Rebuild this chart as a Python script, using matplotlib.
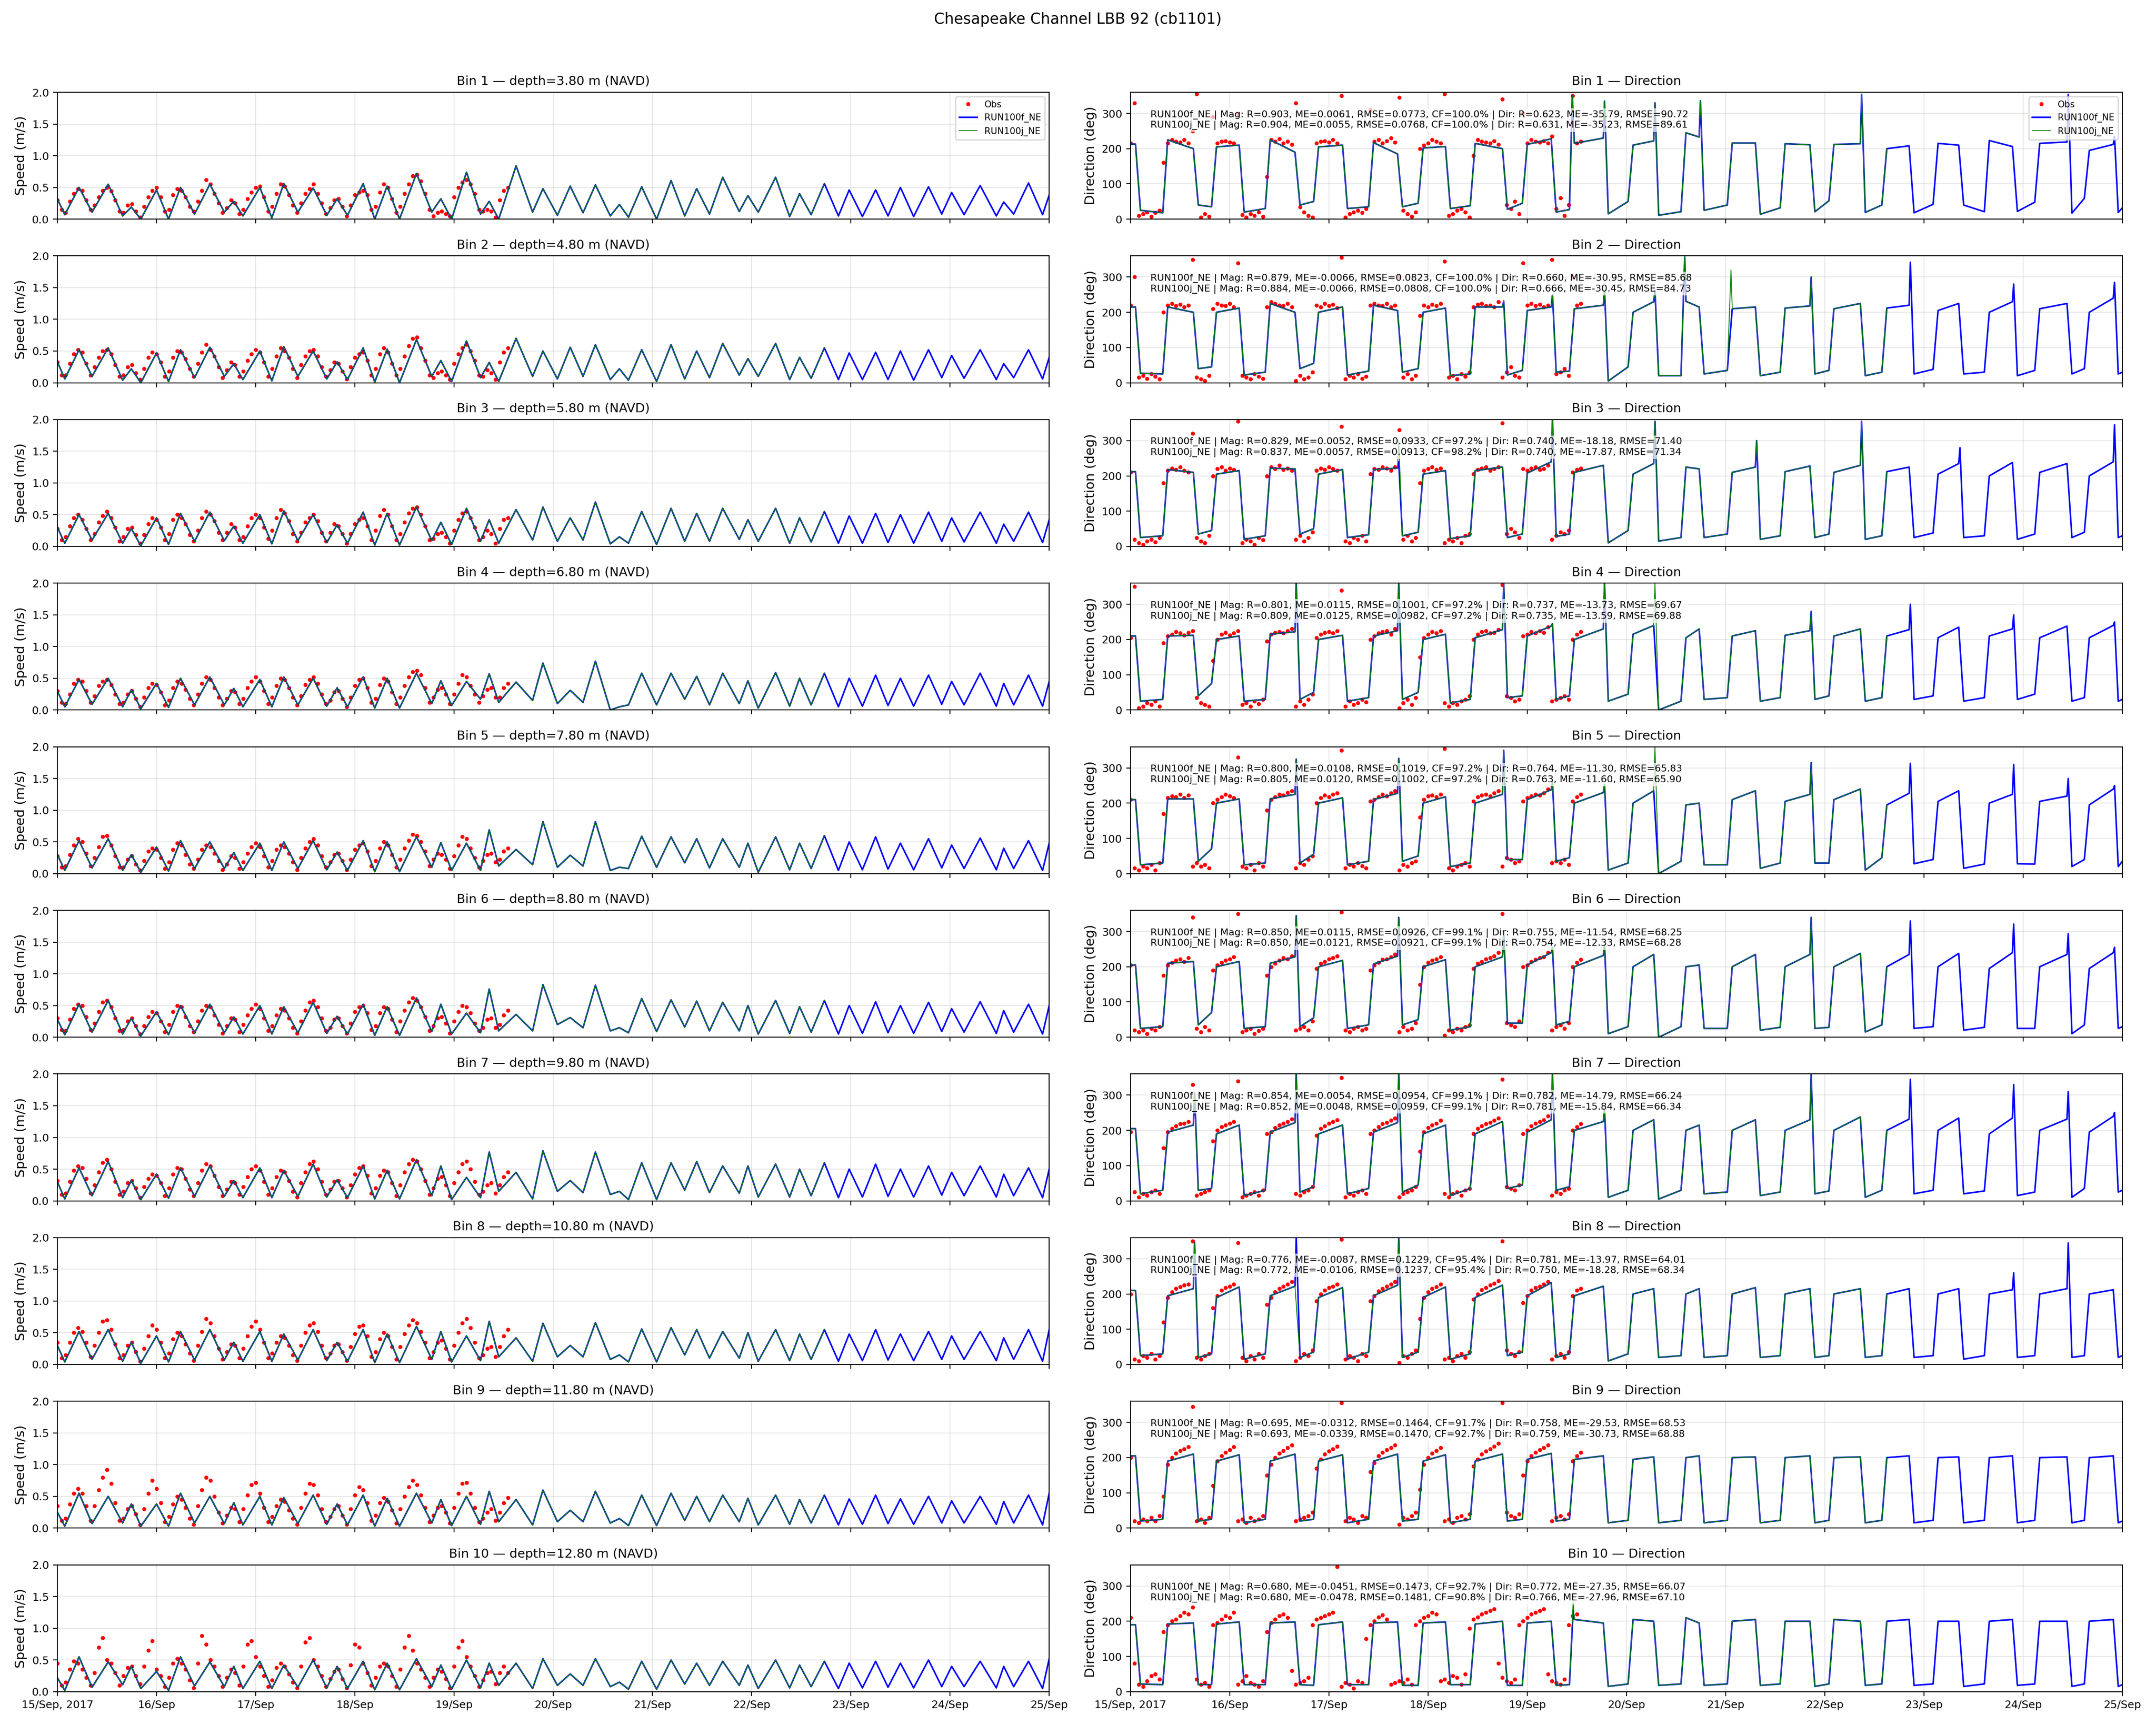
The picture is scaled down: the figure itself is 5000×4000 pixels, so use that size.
"""
Chesapeake Channel LBB 92 (cb1101): ADCP bins vs RUN100f_NE / RUN100j_NE.
Speed (left) and direction (right) per bin, hourly values read from the plot.
"""

import numpy as np
import matplotlib
matplotlib.use("Agg")
import matplotlib.pyplot as plt

station = "Chesapeake Channel LBB 92 (cb1101)"
depths = [3.80, 4.80, 5.80, 6.80, 7.80, 8.80, 9.80, 10.80, 11.80, 12.80]
day_labels = ["15/Sep, 2017", "16/Sep", "17/Sep", "18/Sep", "19/Sep", "20/Sep",
              "21/Sep", "22/Sep", "23/Sep", "24/Sep", "25/Sep"]

# hours since 15 Sep 2017 00:00
slack_h = [1.8, 8.4, 15.8, 20.2, 26.9, 33.2, 40.4, 44.9, 51.9, 58.2,
           65.2, 70.2, 76.8, 82.8, 90.6, 95.4, 102.4, 106.8, 115.0, 121.0,
           127.2, 133.8, 138.2, 145.0, 151.8, 157.8, 165.0, 169.6, 177.2, 182.4,
           189.0, 194.8, 201.0, 207.2, 214.0, 219.4, 227.2, 231.4, 238.4]
peak_h = [5.25, 12.3, 17.9, 24.0, 29.8, 36.9, 42.7, 49.0, 54.8, 61.9,
          67.7, 74.0, 79.8, 86.9, 92.8, 99.0, 104.5, 111.0, 117.5, 124.1,
          130.2, 136.0, 141.4, 148.5, 154.7, 161.0, 167.1, 173.8, 179.6, 185.6,
          191.6, 198.0, 204.0, 210.8, 216.4, 223.3, 229.0, 235.0]
run_j_end_h = 188.0

# skill scores printed in the direction panels
mag_r_f = [0.903, 0.879, 0.829, 0.801, 0.800, 0.850, 0.854, 0.776, 0.695, 0.680]
mag_me_f = [0.0061, -0.0066, 0.0052, 0.0115, 0.0108, 0.0115, 0.0054, -0.0087, -0.0312, -0.0451]
mag_rmse_f = [0.0773, 0.0823, 0.0933, 0.1001, 0.1019, 0.0926, 0.0954, 0.1229, 0.1464, 0.1473]
cf_f = [100.0, 100.0, 97.2, 97.2, 97.2, 99.1, 99.1, 95.4, 91.7, 92.7]
dir_r_f = [0.623, 0.660, 0.740, 0.737, 0.764, 0.755, 0.782, 0.781, 0.758, 0.772]
dir_me_f = [-35.79, -30.95, -18.18, -13.73, -11.30, -11.54, -14.79, -13.97, -29.53, -27.35]
dir_rmse_f = [90.72, 85.68, 71.40, 69.67, 65.83, 68.25, 66.24, 64.01, 68.53, 66.07]
mag_r_j = [0.904, 0.884, 0.837, 0.809, 0.805, 0.850, 0.852, 0.772, 0.693, 0.680]
mag_me_j = [0.0055, -0.0066, 0.0057, 0.0125, 0.0120, 0.0121, 0.0048, -0.0106, -0.0339, -0.0478]
mag_rmse_j = [0.0768, 0.0808, 0.0913, 0.0982, 0.1002, 0.0921, 0.0959, 0.1237, 0.1470, 0.1481]
cf_j = [100.0, 100.0, 98.2, 97.2, 97.2, 99.1, 99.1, 95.4, 92.7, 90.8]
dir_r_j = [0.631, 0.666, 0.740, 0.735, 0.763, 0.754, 0.781, 0.750, 0.759, 0.766]
dir_me_j = [-35.23, -30.45, -17.87, -13.59, -11.60, -12.33, -15.84, -18.28, -30.73, -27.96]
dir_rmse_j = [89.61, 84.73, 71.34, 69.88, 65.90, 68.28, 66.34, 68.34, 68.88, 67.10]

# ---- model speed: value at start, at each slack (trough), at each peak, at end
spd_start = [0.32, 0.33, 0.30, 0.30, 0.30, 0.28, 0.30, 0.30, 0.25, 0.22]
spd_end = [0.38, 0.40, 0.42, 0.45, 0.48, 0.50, 0.50, 0.55, 0.55, 0.52]

spd_tr_b1 = [0.07, 0.11, 0.05, 0.00, 0.00, 0.08, 0.11, 0.05, 0.02, 0.11, 0.06, 0.06, 0.00, 0.00, 0.11, 0.00, 0.08, 0.00, 0.11, 0.06,
             0.10, 0.05, 0.03, 0.00, 0.05, 0.08, 0.12, 0.11, 0.04, 0.07, 0.05, 0.04, 0.05, 0.04, 0.08, 0.07, 0.05, 0.08, 0.07]
spd_pk_b1 = [0.50, 0.55, 0.19, 0.46, 0.50, 0.55, 0.28, 0.50, 0.56, 0.49, 0.32, 0.56, 0.52, 0.72, 0.32, 0.74, 0.28, 0.84, 0.48, 0.52,
             0.54, 0.23, 0.51, 0.61, 0.48, 0.66, 0.37, 0.66, 0.40, 0.56, 0.46, 0.46, 0.50, 0.51, 0.42, 0.53, 0.27, 0.57]
spd_tr_b2 = [0.06, 0.10, 0.04, 0.00, 0.02, 0.08, 0.10, 0.05, 0.03, 0.10, 0.06, 0.05, 0.01, 0.00, 0.10, 0.02, 0.08, 0.02, 0.10, 0.06,
             0.10, 0.05, 0.04, 0.02, 0.06, 0.08, 0.12, 0.10, 0.05, 0.07, 0.05, 0.05, 0.05, 0.04, 0.08, 0.07, 0.05, 0.08, 0.06]
spd_pk_b2 = [0.52, 0.55, 0.22, 0.47, 0.52, 0.56, 0.30, 0.50, 0.57, 0.50, 0.33, 0.55, 0.53, 0.68, 0.35, 0.66, 0.32, 0.70, 0.50, 0.56,
             0.60, 0.22, 0.52, 0.60, 0.50, 0.62, 0.38, 0.62, 0.40, 0.55, 0.47, 0.48, 0.50, 0.52, 0.43, 0.52, 0.30, 0.52]
spd_tr_b3 = [0.05, 0.10, 0.05, 0.01, 0.03, 0.08, 0.09, 0.05, 0.04, 0.09, 0.06, 0.05, 0.02, 0.02, 0.09, 0.03, 0.08, 0.05, 0.10, 0.08,
             0.10, 0.04, 0.05, 0.03, 0.08, 0.08, 0.11, 0.08, 0.05, 0.07, 0.05, 0.05, 0.06, 0.05, 0.08, 0.07, 0.05, 0.08, 0.06]
spd_pk_b3 = [0.50, 0.52, 0.28, 0.45, 0.52, 0.54, 0.32, 0.50, 0.56, 0.50, 0.34, 0.54, 0.52, 0.62, 0.38, 0.60, 0.42, 0.58, 0.62, 0.45,
             0.70, 0.15, 0.55, 0.60, 0.52, 0.60, 0.42, 0.60, 0.45, 0.55, 0.48, 0.52, 0.50, 0.54, 0.45, 0.54, 0.35, 0.54]
spd_tr_b4 = [0.05, 0.09, 0.05, 0.02, 0.04, 0.08, 0.08, 0.05, 0.05, 0.08, 0.06, 0.05, 0.03, 0.03, 0.10, 0.07, 0.17, 0.12, 0.15, 0.10,
             0.12, 0.00, 0.08, 0.08, 0.17, 0.08, 0.10, 0.03, 0.06, 0.08, 0.05, 0.06, 0.07, 0.06, 0.09, 0.08, 0.06, 0.08, 0.06]
spd_pk_b4 = [0.48, 0.50, 0.32, 0.42, 0.50, 0.52, 0.34, 0.48, 0.52, 0.50, 0.35, 0.52, 0.50, 0.58, 0.46, 0.45, 0.57, 0.44, 0.74, 0.31,
             0.77, 0.05, 0.58, 0.58, 0.53, 0.58, 0.46, 0.59, 0.50, 0.58, 0.50, 0.55, 0.50, 0.55, 0.45, 0.58, 0.42, 0.55]
spd_tr_b5 = [0.05, 0.09, 0.05, 0.02, 0.04, 0.08, 0.08, 0.05, 0.05, 0.08, 0.06, 0.05, 0.03, 0.03, 0.10, 0.05, 0.05, 0.12, 0.14, 0.10,
             0.12, 0.05, 0.08, 0.10, 0.17, 0.09, 0.10, 0.02, 0.06, 0.08, 0.05, 0.06, 0.07, 0.06, 0.09, 0.08, 0.06, 0.08, 0.05]
spd_pk_b5 = [0.52, 0.55, 0.30, 0.42, 0.52, 0.50, 0.33, 0.48, 0.50, 0.52, 0.34, 0.52, 0.50, 0.58, 0.49, 0.48, 0.69, 0.38, 0.82, 0.29,
             0.82, 0.10, 0.59, 0.58, 0.55, 0.55, 0.48, 0.58, 0.48, 0.60, 0.50, 0.58, 0.48, 0.55, 0.45, 0.56, 0.40, 0.52]
spd_tr_b6 = [0.04, 0.08, 0.05, 0.02, 0.04, 0.07, 0.07, 0.05, 0.05, 0.07, 0.06, 0.05, 0.03, 0.03, 0.09, 0.05, 0.07, 0.10, 0.10, 0.20,
             0.15, 0.10, 0.07, 0.09, 0.16, 0.10, 0.10, 0.05, 0.06, 0.08, 0.05, 0.06, 0.07, 0.06, 0.09, 0.08, 0.06, 0.08, 0.05]
spd_pk_b6 = [0.52, 0.58, 0.30, 0.40, 0.50, 0.52, 0.32, 0.50, 0.48, 0.55, 0.33, 0.52, 0.48, 0.62, 0.52, 0.38, 0.76, 0.36, 0.83, 0.31,
             0.82, 0.15, 0.61, 0.59, 0.57, 0.55, 0.50, 0.58, 0.48, 0.58, 0.50, 0.56, 0.50, 0.55, 0.45, 0.56, 0.42, 0.52]
spd_tr_b7 = [0.03, 0.08, 0.05, 0.02, 0.04, 0.07, 0.07, 0.05, 0.05, 0.07, 0.06, 0.05, 0.03, 0.03, 0.08, 0.02, 0.05, 0.15, 0.03, 0.15,
             0.13, 0.10, 0.02, 0.02, 0.17, 0.13, 0.12, 0.06, 0.06, 0.08, 0.05, 0.06, 0.07, 0.06, 0.09, 0.08, 0.06, 0.08, 0.05]
spd_pk_b7 = [0.52, 0.62, 0.32, 0.42, 0.52, 0.55, 0.32, 0.52, 0.48, 0.58, 0.33, 0.55, 0.48, 0.65, 0.55, 0.37, 0.77, 0.45, 0.79, 0.32,
             0.77, 0.15, 0.60, 0.60, 0.62, 0.55, 0.55, 0.58, 0.50, 0.60, 0.50, 0.58, 0.50, 0.55, 0.45, 0.55, 0.42, 0.52]
spd_tr_b8 = [0.04, 0.08, 0.05, 0.02, 0.04, 0.07, 0.07, 0.05, 0.05, 0.07, 0.06, 0.05, 0.03, 0.03, 0.08, 0.04, 0.06, 0.12, 0.05, 0.12,
             0.12, 0.08, 0.04, 0.04, 0.15, 0.10, 0.10, 0.05, 0.06, 0.08, 0.05, 0.06, 0.07, 0.06, 0.08, 0.08, 0.06, 0.08, 0.05]
spd_pk_b8 = [0.52, 0.55, 0.35, 0.45, 0.52, 0.55, 0.35, 0.52, 0.48, 0.55, 0.35, 0.55, 0.48, 0.60, 0.52, 0.45, 0.68, 0.42, 0.65, 0.30,
             0.66, 0.15, 0.56, 0.58, 0.55, 0.52, 0.50, 0.55, 0.48, 0.55, 0.48, 0.55, 0.48, 0.52, 0.45, 0.52, 0.42, 0.55]
spd_tr_b9 = [0.03, 0.07, 0.08, 0.03, 0.03, 0.08, 0.07, 0.05, 0.05, 0.07, 0.06, 0.05, 0.03, 0.03, 0.08, 0.04, 0.06, 0.10, 0.05, 0.10,
             0.10, 0.08, 0.04, 0.04, 0.12, 0.10, 0.10, 0.05, 0.06, 0.08, 0.05, 0.06, 0.07, 0.06, 0.08, 0.08, 0.06, 0.08, 0.05]
spd_pk_b9 = [0.55, 0.50, 0.38, 0.38, 0.55, 0.50, 0.40, 0.50, 0.48, 0.52, 0.38, 0.52, 0.47, 0.55, 0.45, 0.50, 0.58, 0.45, 0.60, 0.28,
             0.58, 0.15, 0.52, 0.55, 0.50, 0.52, 0.47, 0.52, 0.45, 0.52, 0.46, 0.52, 0.46, 0.50, 0.43, 0.50, 0.42, 0.52]
spd_tr_b10 = [0.02, 0.07, 0.11, 0.05, 0.02, 0.09, 0.08, 0.05, 0.05, 0.07, 0.06, 0.05, 0.03, 0.03, 0.08, 0.04, 0.06, 0.10, 0.05, 0.10,
              0.10, 0.08, 0.04, 0.04, 0.12, 0.10, 0.10, 0.05, 0.06, 0.08, 0.05, 0.06, 0.07, 0.06, 0.08, 0.08, 0.06, 0.08, 0.05]
spd_pk_b10 = [0.55, 0.47, 0.40, 0.32, 0.55, 0.47, 0.40, 0.48, 0.42, 0.50, 0.40, 0.48, 0.45, 0.52, 0.42, 0.50, 0.45, 0.45, 0.52, 0.28,
              0.52, 0.15, 0.48, 0.50, 0.45, 0.48, 0.42, 0.50, 0.42, 0.48, 0.45, 0.48, 0.45, 0.50, 0.40, 0.48, 0.40, 0.48]

# ---- model direction: plateau value at start / end of each half cycle (40 per bin)
dir_a_b1 = [213, 25, 225, 40, 205, 20, 225, 40, 205, 30, 217, 35, 202, 30, 215, 28, 212, 20, 215, 15,
            210, 11, 245, 25, 216, 14, 214, 21, 212, 19, 200, 18, 215, 40, 223, 22, 215, 17, 195, 19]
dir_b_b1 = [213, 18, 200, 35, 210, 30, 190, 50, 210, 35, 185, 45, 206, 38, 200, 45, 228, 27, 230, 50,
            222, 21, 233, 40, 216, 32, 211, 52, 214, 40, 208, 42, 210, 21, 206, 48, 219, 59, 212, 32]
dir_a_b2 = [215, 27, 215, 40, 200, 22, 225, 40, 200, 22, 220, 30, 200, 20, 215, 22, 205, 30, 210, 5,
            200, 20, 231, 25, 210, 20, 212, 25, 210, 20, 212, 25, 205, 25, 200, 20, 210, 25, 200, 25]
dir_b_b2 = [215, 25, 200, 45, 212, 30, 200, 55, 215, 33, 205, 40, 212, 25, 215, 35, 215, 33, 220, 45,
            230, 20, 215, 35, 215, 30, 218, 35, 225, 30, 220, 38, 225, 30, 230, 35, 225, 40, 240, 30]
dir_a_b3 = [212, 25, 218, 35, 205, 20, 222, 35, 205, 25, 218, 30, 205, 22, 215, 25, 208, 28, 210, 10,
            205, 15, 225, 25, 210, 20, 212, 25, 210, 20, 212, 25, 205, 25, 200, 20, 210, 25, 200, 25]
dir_b_b3 = [212, 30, 210, 45, 215, 30, 220, 50, 218, 33, 222, 40, 215, 30, 225, 35, 240, 35, 230, 45,
            235, 25, 220, 35, 225, 30, 228, 35, 230, 30, 225, 38, 235, 30, 238, 35, 235, 40, 240, 30]
dir_a_b4 = [210, 25, 210, 40, 200, 25, 215, 30, 200, 25, 210, 30, 200, 20, 205, 35, 210, 30, 200, 25,
            215, 0, 205, 30, 210, 25, 212, 30, 210, 25, 210, 30, 205, 25, 210, 30, 205, 25, 205, 25]
dir_b_b4 = [210, 30, 212, 75, 210, 30, 222, 50, 212, 35, 225, 50, 215, 30, 228, 40, 238, 40, 230, 45,
            240, 25, 230, 35, 225, 35, 225, 40, 230, 35, 228, 40, 235, 35, 230, 45, 238, 35, 240, 30]
dir_a_b5 = [210, 25, 212, 35, 200, 25, 212, 30, 200, 25, 210, 35, 200, 20, 200, 40, 210, 35, 200, 10,
            200, 0, 195, 25, 210, 15, 205, 30, 210, 10, 195, 28, 205, 15, 200, 28, 205, 20, 195, 20]
dir_b_b5 = [210, 30, 212, 70, 212, 30, 225, 55, 215, 35, 228, 50, 218, 30, 225, 40, 238, 45, 230, 30,
            235, 35, 200, 25, 235, 30, 225, 30, 240, 45, 228, 40, 235, 27, 225, 27, 220, 40, 240, 35]
dir_a_b6 = [205, 25, 210, 35, 200, 25, 210, 30, 200, 25, 208, 35, 200, 20, 200, 40, 205, 35, 200, 10,
            200, 0, 200, 25, 200, 20, 200, 25, 200, 15, 200, 25, 200, 20, 195, 25, 200, 10, 195, 25]
dir_b_b6 = [205, 30, 215, 70, 215, 30, 228, 55, 218, 35, 230, 50, 220, 30, 228, 40, 240, 45, 232, 30,
            235, 30, 205, 25, 235, 28, 235, 28, 238, 35, 235, 30, 238, 28, 240, 25, 235, 35, 240, 30]
dir_a_b7 = [205, 20, 195, 30, 190, 15, 195, 25, 190, 20, 195, 25, 190, 15, 190, 35, 195, 30, 200, 10,
            200, 5, 200, 20, 200, 15, 200, 20, 200, 10, 200, 20, 200, 20, 190, 15, 200, 10, 195, 25]
dir_b_b7 = [205, 30, 215, 35, 215, 30, 222, 40, 215, 35, 222, 45, 215, 35, 225, 45, 230, 40, 225, 30,
            230, 30, 215, 25, 230, 25, 230, 28, 238, 30, 232, 30, 235, 28, 235, 25, 232, 35, 240, 30]
dir_a_b8 = [210, 25, 195, 20, 190, 15, 195, 20, 190, 15, 195, 20, 190, 15, 190, 25, 195, 20, 195, 10,
            200, 20, 200, 20, 200, 20, 200, 20, 200, 20, 200, 20, 200, 15, 200, 20, 200, 20, 200, 20]
dir_b_b8 = [210, 30, 215, 30, 220, 30, 222, 35, 218, 35, 225, 35, 220, 30, 225, 35, 232, 30, 222, 30,
            215, 25, 215, 25, 218, 25, 215, 25, 215, 25, 215, 25, 215, 25, 212, 25, 215, 25, 212, 25]
dir_a_b9 = [205, 20, 190, 20, 190, 15, 190, 20, 190, 15, 190, 20, 190, 15, 190, 20, 195, 20, 195, 15,
            195, 15, 200, 15, 200, 15, 200, 15, 200, 15, 200, 15, 200, 15, 200, 15, 200, 15, 200, 15]
dir_b_b9 = [205, 25, 210, 25, 208, 25, 210, 25, 208, 25, 210, 25, 208, 25, 210, 25, 212, 25, 205, 22,
            202, 22, 205, 22, 202, 22, 205, 22, 202, 22, 205, 22, 202, 22, 205, 22, 202, 22, 205, 20]
dir_a_b10 = [190, 22, 192, 20, 192, 20, 195, 20, 190, 20, 195, 18, 195, 20, 192, 18, 195, 18, 205, 15,
             205, 18, 210, 18, 200, 18, 200, 15, 205, 18, 200, 18, 200, 15, 200, 18, 200, 15, 200, 15]
dir_b_b10 = [190, 20, 195, 20, 198, 20, 198, 18, 198, 20, 198, 18, 198, 20, 200, 18, 200, 20, 195, 22,
             200, 22, 195, 22, 205, 22, 200, 22, 200, 22, 205, 22, 200, 22, 205, 22, 200, 22, 205, 20]

# short direction excursions (hour, deg) at the turn of the tide
spk_f_b1 = [(106.9, 350), (114.7, 335), (126.9, 330), (137.9, 336), (176.9, 354), (226.9, 354), (238.1, 235)]
spk_j_b1 = [(106.9, 350), (114.7, 335), (126.9, 330), (137.9, 336), (176.9, 354)]
spk_f_b2 = [(90.3, 232), (102.1, 250), (114.7, 262), (126.9, 262), (134.1, 357), (164.7, 300), (188.7, 342), (213.7, 280), (238.1, 285)]
spk_j_b2 = [(90.3, 232), (102.1, 250), (114.7, 262), (126.9, 262), (134.1, 357), (145.3, 320), (164.7, 300)]
spk_f_b3 = [(64.9, 240), (102.1, 360), (126.9, 355), (151.5, 300), (176.9, 355), (200.7, 280), (238.1, 345)]
spk_j_b3 = [(64.9, 300), (102.1, 360), (126.9, 355), (151.5, 300), (176.9, 355)]
spk_f_b4 = [(40.1, 360), (64.9, 360), (90.3, 360), (102.1, 245), (114.7, 360), (164.7, 280), (188.7, 300), (213.7, 270), (238.1, 250)]
spk_j_b4 = [(40.1, 360), (64.9, 360), (90.3, 360), (102.1, 245), (114.7, 360), (126.9, 360), (164.7, 280)]
spk_f_b5 = [(40.1, 325), (64.9, 327), (90.3, 350), (102.1, 260), (114.7, 253), (164.7, 315), (188.7, 313), (213.7, 310), (226.9, 270), (238.1, 250)]
spk_j_b5 = [(40.1, 325), (64.9, 327), (90.3, 350), (102.1, 260), (114.7, 253), (126.9, 360), (164.7, 315)]
spk_f_b6 = [(40.1, 345), (64.9, 340), (90.3, 300), (102.1, 255), (114.7, 262), (164.7, 340), (188.7, 330), (213.7, 321), (226.9, 294), (238.1, 255)]
spk_j_b6 = [(40.1, 345), (64.9, 340), (90.3, 300), (102.1, 255), (114.7, 262), (164.7, 340)]
spk_f_b7 = [(15.5, 307), (40.1, 360), (64.9, 360), (102.1, 360), (114.7, 258), (164.7, 360), (188.7, 345), (213.7, 330), (226.9, 310), (238.1, 251)]
spk_j_b7 = [(15.5, 307), (40.1, 360), (64.9, 360), (102.1, 360), (114.7, 258), (164.7, 360)]
spk_f_b8 = [(15.5, 345), (40.1, 360), (64.9, 358), (213.7, 260), (226.9, 345)]
spk_j_b8 = [(15.5, 345), (64.9, 358)]
spk_f_b9 = []
spk_j_b9 = []
spk_f_b10 = [(107.1, 230)]
spk_j_b10 = [(107.1, 255)]

# ---- ADCP observations, hourly from 15 Sep 00:00
obs_spd_b1 = [0.30, 0.15,
              0.10, 0.28, 0.40, 0.48, 0.45, 0.30, 0.15,
              0.22, 0.35, 0.45, 0.50, 0.44, 0.30, 0.12,
              0.10, 0.22, 0.24, 0.12, 0.03,
              0.20, 0.35, 0.45, 0.50, 0.35, 0.12,
              0.15, 0.38, 0.48, 0.45, 0.35, 0.20, 0.12,
              0.28, 0.45, 0.62, 0.55, 0.40, 0.25, 0.10,
              0.18, 0.30, 0.25, 0.08,
              0.15, 0.32, 0.42, 0.50, 0.52, 0.35, 0.12,
              0.20, 0.40, 0.55, 0.52, 0.38, 0.22, 0.10,
              0.25, 0.40, 0.48, 0.55, 0.40, 0.25, 0.08,
              0.18, 0.30, 0.32, 0.20, 0.05,
              0.22, 0.38, 0.42, 0.45, 0.38, 0.15,
              0.20, 0.42, 0.55, 0.50, 0.32, 0.10,
              0.20, 0.40, 0.55, 0.68, 0.70, 0.60, 0.40, 0.15,
              0.05, 0.10, 0.12, 0.08, 0.05,
              0.35, 0.50, 0.58, 0.62, 0.55, 0.40, 0.15,
              0.12, 0.15, 0.12, 0.03,
              0.30, 0.45, 0.50]
obs_dir_b1 = [215, 330,
              10, 15, 20, 8, 18, 25, 160,
              215, 225, 220, 218, 225, 215, 250,
              355, 5, 15, 8, 290,
              215, 220, 222, 218, 215, 300,
              12, 5, 15, 10, 20, 8, 120,
              225, 220, 228, 215, 220, 212, 330,
              35, 20, 10, 5,
              215, 220, 222, 218, 225, 215, 350,
              5, 15, 20, 25, 18, 30, 310,
              220, 225, 215, 222, 230, 218, 345,
              25, 15, 8, 20, 200,
              210, 215, 225, 220, 215, 355,
              10, 15, 25, 30, 20, 5,
              180, 225, 220, 218, 215, 222, 212, 340,
              40, 30, 50, 15, 300,
              215, 225, 220, 218, 222, 215, 235,
              30, 60, 10, 40,
              350, 215, 220]
obs_spd_b2 = [0.32, 0.12,
              0.12, 0.30, 0.45, 0.52, 0.48, 0.30, 0.12,
              0.25, 0.40, 0.50, 0.52, 0.45, 0.28, 0.10,
              0.12, 0.25, 0.28, 0.15, 0.05,
              0.22, 0.40, 0.48, 0.45, 0.32, 0.10,
              0.18, 0.40, 0.50, 0.48, 0.38, 0.22, 0.10,
              0.30, 0.48, 0.60, 0.52, 0.42, 0.25, 0.08,
              0.20, 0.32, 0.28, 0.10,
              0.18, 0.35, 0.45, 0.52, 0.48, 0.32, 0.10,
              0.22, 0.42, 0.55, 0.50, 0.40, 0.22, 0.08,
              0.28, 0.42, 0.50, 0.52, 0.42, 0.25, 0.10,
              0.20, 0.32, 0.30, 0.18, 0.06,
              0.25, 0.40, 0.45, 0.48, 0.35, 0.12,
              0.22, 0.45, 0.55, 0.48, 0.30, 0.12,
              0.22, 0.42, 0.58, 0.70, 0.72, 0.55, 0.35, 0.12,
              0.08, 0.15, 0.18, 0.12, 0.05,
              0.30, 0.45, 0.55, 0.60, 0.50, 0.35, 0.12,
              0.10, 0.20, 0.15, 0.05,
              0.32, 0.48, 0.55]
obs_dir_b2 = [220, 300,
              15, 20, 12, 25, 18, 10, 200,
              220, 225, 218, 222, 215, 220, 350,
              15, 10, 5, 20, 210,
              225, 220, 218, 225, 215, 340,
              20, 15, 10, 25, 18, 12, 215,
              230, 225, 220, 218, 225, 215, 5,
              20, 10, 15, 30,
              220, 215, 225, 218, 222, 212, 355,
              10, 20, 15, 25, 12, 18, 220,
              225, 220, 218, 225, 215, 220, 300,
              15, 25, 10, 20, 190,
              220, 215, 222, 218, 225, 345,
              15, 20, 10, 25, 18, 30,
              215, 222, 225, 218, 220, 215, 230, 15,
              30, 45, 20, 15, 340,
              220, 225, 218, 222, 215, 220, 350,
              25, 30, 40, 20,
              300, 220, 225]
obs_spd_b3 = [0.28, 0.10,
              0.15, 0.32, 0.45, 0.50, 0.42, 0.28, 0.10,
              0.20, 0.38, 0.48, 0.55, 0.45, 0.30, 0.08,
              0.15, 0.28, 0.30, 0.18, 0.05,
              0.18, 0.35, 0.45, 0.42, 0.30, 0.10,
              0.20, 0.42, 0.50, 0.45, 0.35, 0.18, 0.08,
              0.25, 0.45, 0.55, 0.50, 0.40, 0.22, 0.10,
              0.22, 0.35, 0.30, 0.10,
              0.15, 0.32, 0.45, 0.50, 0.45, 0.30, 0.12,
              0.25, 0.45, 0.58, 0.52, 0.40, 0.20, 0.08,
              0.22, 0.38, 0.45, 0.50, 0.40, 0.22, 0.08,
              0.22, 0.35, 0.32, 0.20, 0.05,
              0.20, 0.35, 0.42, 0.45, 0.32, 0.10,
              0.25, 0.48, 0.58, 0.50, 0.32, 0.10,
              0.20, 0.38, 0.52, 0.60, 0.62, 0.50, 0.32, 0.10,
              0.12, 0.20, 0.22, 0.15, 0.05,
              0.25, 0.42, 0.52, 0.55, 0.45, 0.30, 0.10,
              0.15, 0.25, 0.20, 0.05,
              0.28, 0.42, 0.45]
obs_dir_b3 = [210, 20,
              10, 5, 15, 20, 12, 25, 180,
              215, 222, 218, 225, 215, 210, 320,
              25, 15, 10, 30, 200,
              220, 225, 215, 222, 218, 355,
              10, 20, 15, 5, 25, 18, 200,
              225, 220, 230, 218, 222, 215, 20,
              30, 15, 25, 40,
              215, 222, 218, 225, 220, 215, 340,
              15, 10, 25, 20, 30, 15, 205,
              220, 218, 225, 222, 215, 225, 330,
              20, 30, 15, 25, 180,
              215, 220, 225, 218, 222, 10,
              20, 15, 25, 10, 30, 35,
              205, 218, 222, 225, 215, 220, 225, 350,
              35, 50, 40, 25, 220,
              215, 222, 225, 218, 220, 230, 20,
              30, 40, 35, 45,
              210, 218, 222]
obs_spd_b4 = [0.30, 0.12,
              0.10, 0.25, 0.42, 0.48, 0.45, 0.30, 0.12,
              0.22, 0.38, 0.45, 0.48, 0.40, 0.25, 0.10,
              0.12, 0.25, 0.30, 0.18, 0.05,
              0.20, 0.35, 0.42, 0.40, 0.28, 0.08,
              0.15, 0.35, 0.45, 0.42, 0.32, 0.18, 0.08,
              0.25, 0.42, 0.52, 0.48, 0.35, 0.20, 0.08,
              0.18, 0.30, 0.28, 0.10,
              0.18, 0.35, 0.45, 0.52, 0.45, 0.30, 0.10,
              0.20, 0.38, 0.50, 0.48, 0.35, 0.20, 0.08,
              0.22, 0.40, 0.48, 0.52, 0.42, 0.25, 0.10,
              0.15, 0.28, 0.30, 0.18, 0.05,
              0.20, 0.38, 0.48, 0.50, 0.35, 0.12,
              0.18, 0.40, 0.50, 0.45, 0.28, 0.10,
              0.20, 0.38, 0.52, 0.60, 0.62, 0.55, 0.35, 0.12,
              0.20, 0.32, 0.35, 0.25, 0.10,
              0.25, 0.42, 0.55, 0.52, 0.38, 0.25, 0.12,
              0.22, 0.32, 0.35, 0.20,
              0.20, 0.35, 0.42]
obs_dir_b4 = [205, 350,
              5, 10, 20, 15, 25, 10, 190,
              210, 215, 222, 218, 212, 220, 225,
              35, 20, 15, 10, 140,
              200, 215, 220, 212, 218, 225,
              15, 20, 10, 25, 18, 30, 195,
              215, 220, 222, 218, 225, 230, 10,
              25, 15, 30, 45,
              205, 215, 220, 222, 218, 225, 340,
              10, 25, 15, 20, 30, 22, 200,
              210, 218, 222, 225, 215, 230, 5,
              20, 30, 15, 35, 150,
              205, 215, 222, 218, 225, 20,
              10, 20, 15, 25, 30, 40,
              200, 215, 222, 225, 218, 220, 228, 355,
              40, 35, 25, 30, 210,
              215, 222, 218, 225, 220, 235, 25,
              30, 35, 40, 30,
              200, 215, 222]
obs_spd_b5 = [0.28, 0.10,
              0.12, 0.30, 0.45, 0.55, 0.50, 0.32, 0.12,
              0.25, 0.42, 0.58, 0.60, 0.45, 0.28, 0.10,
              0.10, 0.22, 0.28, 0.15, 0.05,
              0.20, 0.35, 0.40, 0.38, 0.25, 0.08,
              0.18, 0.38, 0.48, 0.45, 0.30, 0.15, 0.08,
              0.22, 0.38, 0.45, 0.42, 0.32, 0.20, 0.06,
              0.15, 0.28, 0.25, 0.08,
              0.18, 0.32, 0.42, 0.48, 0.42, 0.28, 0.10,
              0.20, 0.38, 0.45, 0.42, 0.32, 0.18, 0.06,
              0.25, 0.40, 0.50, 0.55, 0.45, 0.28, 0.10,
              0.18, 0.30, 0.32, 0.20, 0.06,
              0.22, 0.38, 0.45, 0.48, 0.35, 0.12,
              0.20, 0.40, 0.50, 0.45, 0.30, 0.10,
              0.22, 0.40, 0.52, 0.62, 0.60, 0.50, 0.35, 0.12,
              0.22, 0.32, 0.30, 0.22, 0.08,
              0.28, 0.45, 0.58, 0.55, 0.40, 0.25, 0.10,
              0.20, 0.30, 0.32, 0.18,
              0.22, 0.35, 0.40]
obs_dir_b5 = [210, 15,
              10, 20, 15, 25, 10, 30, 170,
              215, 220, 218, 225, 215, 222, 20,
              30, 20, 25, 15, 200,
              210, 218, 225, 220, 215, 330,
              20, 15, 25, 10, 30, 20, 180,
              210, 218, 225, 222, 230, 235, 15,
              30, 25, 40, 50,
              200, 215, 222, 218, 225, 228, 350,
              15, 25, 20, 30, 22, 15, 205,
              210, 218, 225, 220, 228, 235, 10,
              25, 20, 30, 35, 160,
              210, 220, 222, 218, 225, 355,
              15, 10, 20, 25, 30, 20,
              205, 218, 222, 225, 220, 228, 235, 20,
              45, 40, 30, 35, 205,
              215, 220, 225, 222, 228, 240, 30,
              35, 30, 40, 25,
              205, 218, 225]
obs_spd_b6 = [0.30, 0.12,
              0.10, 0.28, 0.45, 0.52, 0.50, 0.32, 0.12,
              0.22, 0.40, 0.55, 0.58, 0.48, 0.30, 0.10,
              0.12, 0.25, 0.30, 0.18, 0.05,
              0.18, 0.32, 0.40, 0.38, 0.25, 0.08,
              0.20, 0.40, 0.50, 0.48, 0.32, 0.18, 0.08,
              0.25, 0.42, 0.50, 0.48, 0.35, 0.20, 0.06,
              0.18, 0.30, 0.28, 0.08,
              0.20, 0.35, 0.45, 0.52, 0.45, 0.30, 0.10,
              0.18, 0.35, 0.45, 0.42, 0.30, 0.15, 0.06,
              0.25, 0.42, 0.55, 0.58, 0.48, 0.30, 0.10,
              0.15, 0.28, 0.30, 0.18, 0.06,
              0.22, 0.40, 0.48, 0.50, 0.38, 0.12,
              0.18, 0.38, 0.48, 0.45, 0.28, 0.08,
              0.25, 0.42, 0.55, 0.62, 0.58, 0.48, 0.32, 0.10,
              0.18, 0.30, 0.32, 0.22, 0.06,
              0.25, 0.40, 0.50, 0.48, 0.38, 0.22, 0.10,
              0.15, 0.28, 0.30, 0.15,
              0.20, 0.35, 0.42]
obs_dir_b6 = [205, 20,
              15, 20, 10, 25, 20, 30, 175,
              205, 212, 218, 222, 215, 225, 340,
              25, 15, 30, 20, 190,
              205, 212, 218, 222, 228, 350,
              15, 20, 25, 10, 18, 25, 175,
              200, 210, 218, 225, 222, 230, 20,
              25, 30, 20, 45,
              195, 210, 215, 222, 225, 230, 355,
              20, 15, 25, 30, 20, 25, 190,
              205, 212, 220, 222, 228, 235, 15,
              30, 20, 25, 40, 150,
              200, 212, 218, 222, 228, 5,
              20, 15, 25, 20, 30, 35,
              195, 210, 215, 222, 225, 230, 240, 350,
              40, 35, 30, 45, 200,
              205, 215, 220, 225, 228, 240, 20,
              30, 35, 25, 40,
              200, 212, 220]
obs_spd_b7 = [0.32, 0.10,
              0.12, 0.30, 0.48, 0.55, 0.52, 0.35, 0.12,
              0.25, 0.45, 0.60, 0.65, 0.50, 0.30, 0.10,
              0.15, 0.28, 0.32, 0.20, 0.05,
              0.22, 0.35, 0.42, 0.40, 0.28, 0.08,
              0.20, 0.42, 0.52, 0.50, 0.35, 0.18, 0.08,
              0.28, 0.48, 0.58, 0.55, 0.40, 0.22, 0.08,
              0.18, 0.30, 0.28, 0.10,
              0.22, 0.38, 0.50, 0.55, 0.48, 0.30, 0.10,
              0.20, 0.38, 0.48, 0.45, 0.32, 0.15, 0.06,
              0.28, 0.45, 0.58, 0.62, 0.50, 0.30, 0.10,
              0.18, 0.30, 0.32, 0.20, 0.06,
              0.25, 0.42, 0.52, 0.55, 0.40, 0.12,
              0.20, 0.40, 0.48, 0.45, 0.28, 0.08,
              0.25, 0.45, 0.58, 0.65, 0.62, 0.50, 0.32, 0.10,
              0.20, 0.35, 0.38, 0.25, 0.08,
              0.28, 0.45, 0.58, 0.62, 0.50, 0.30, 0.10,
              0.15, 0.25, 0.28, 0.12,
              0.25, 0.38, 0.45]
obs_dir_b7 = [195, 25,
              10, 20, 15, 25, 30, 20, 150,
              195, 205, 212, 218, 220, 225, 330,
              15, 20, 25, 30, 170,
              200, 210, 215, 220, 225, 340,
              10, 15, 20, 25, 15, 30, 190,
              195, 208, 215, 220, 225, 232, 20,
              15, 25, 30, 40,
              185, 205, 212, 220, 225, 230, 350,
              10, 20, 15, 25, 30, 20, 190,
              200, 210, 218, 222, 228, 235, 10,
              20, 25, 30, 40, 140,
              195, 208, 215, 220, 228, 20,
              10, 20, 25, 15, 30, 35,
              190, 205, 212, 218, 222, 228, 235, 345,
              40, 35, 30, 45, 190,
              200, 212, 220, 225, 230, 240, 15,
              25, 20, 30, 35,
              200, 210, 218]
obs_spd_b8 = [0.35, 0.10,
              0.15, 0.35, 0.50, 0.58, 0.52, 0.35, 0.12,
              0.30, 0.50, 0.68, 0.70, 0.55, 0.32, 0.10,
              0.15, 0.30, 0.35, 0.20, 0.05,
              0.25, 0.45, 0.62, 0.55, 0.35, 0.10,
              0.18, 0.40, 0.50, 0.45, 0.32, 0.18, 0.06,
              0.30, 0.52, 0.72, 0.65, 0.45, 0.25, 0.08,
              0.20, 0.32, 0.30, 0.10,
              0.25, 0.45, 0.60, 0.68, 0.55, 0.35, 0.10,
              0.18, 0.35, 0.45, 0.42, 0.30, 0.15, 0.06,
              0.30, 0.50, 0.62, 0.65, 0.52, 0.30, 0.10,
              0.18, 0.30, 0.32, 0.20, 0.06,
              0.28, 0.48, 0.60, 0.62, 0.45, 0.12,
              0.20, 0.40, 0.50, 0.45, 0.28, 0.08,
              0.28, 0.48, 0.62, 0.70, 0.65, 0.52, 0.35, 0.10,
              0.20, 0.35, 0.38, 0.25, 0.08,
              0.30, 0.50, 0.65, 0.72, 0.58, 0.35, 0.10,
              0.15, 0.25, 0.28, 0.12,
              0.28, 0.45, 0.55]
obs_dir_b8 = [200, 15,
              10, 25, 20, 30, 15, 25, 120,
              190, 205, 215, 220, 225, 228, 350,
              20, 15, 25, 30, 160,
              195, 210, 218, 222, 228, 345,
              20, 10, 25, 15, 30, 20, 170,
              190, 205, 215, 222, 228, 235, 10,
              20, 30, 25, 40,
              180, 200, 210, 218, 222, 228, 355,
              15, 25, 20, 10, 30, 25, 180,
              195, 208, 215, 222, 228, 235, 5,
              25, 20, 30, 40, 130,
              190, 205, 215, 220, 228, 15,
              20, 10, 25, 30, 20, 35,
              185, 200, 212, 218, 225, 230, 238, 350,
              40, 30, 25, 35, 175,
              195, 210, 218, 222, 228, 235, 15,
              25, 30, 20, 35,
              195, 210, 215]
obs_spd_b9 = [0.35, 0.12,
              0.15, 0.38, 0.55, 0.62, 0.55, 0.35, 0.12,
              0.35, 0.60, 0.80, 0.92, 0.70, 0.40, 0.12,
              0.15, 0.30, 0.35, 0.22, 0.05,
              0.30, 0.55, 0.75, 0.62, 0.40, 0.10,
              0.18, 0.38, 0.50, 0.45, 0.32, 0.15, 0.06,
              0.35, 0.60, 0.80, 0.75, 0.50, 0.25, 0.08,
              0.20, 0.32, 0.30, 0.10,
              0.30, 0.52, 0.68, 0.72, 0.55, 0.32, 0.10,
              0.18, 0.35, 0.45, 0.42, 0.28, 0.15, 0.06,
              0.32, 0.55, 0.70, 0.68, 0.52, 0.30, 0.10,
              0.18, 0.30, 0.35, 0.20, 0.06,
              0.30, 0.52, 0.65, 0.60, 0.40, 0.12,
              0.20, 0.40, 0.48, 0.42, 0.28, 0.08,
              0.30, 0.50, 0.65, 0.75, 0.68, 0.52, 0.32, 0.10,
              0.20, 0.32, 0.35, 0.25, 0.08,
              0.32, 0.55, 0.70, 0.72, 0.55, 0.32, 0.10,
              0.15, 0.25, 0.30, 0.12,
              0.25, 0.40, 0.48]
obs_dir_b9 = [200, 20,
              15, 25, 20, 30, 20, 35, 90,
              180, 200, 212, 220, 225, 230, 345,
              20, 25, 15, 30, 120,
              190, 205, 215, 222, 230, 20,
              25, 15, 30, 20, 25, 35, 150,
              180, 200, 212, 220, 228, 235, 20,
              25, 30, 35, 45,
              170, 195, 210, 218, 225, 232, 355,
              20, 30, 25, 15, 35, 30, 160,
              185, 205, 215, 222, 228, 235, 10,
              30, 25, 35, 45, 110,
              180, 200, 212, 220, 228, 20,
              25, 15, 30, 35, 25, 40,
              175, 195, 210, 218, 225, 232, 240, 355,
              45, 35, 30, 40, 150,
              190, 205, 215, 222, 228, 235, 20,
              30, 35, 25, 40,
              190, 205, 215]
obs_spd_b10 = [0.45, 0.10,
               0.15, 0.35, 0.48, 0.45, 0.35, 0.22, 0.10,
               0.30, 0.70, 0.85, 0.50, 0.45, 0.30, 0.10,
               0.25, 0.38, 0.40, 0.25, 0.12,
               0.40, 0.65, 0.80, 0.35, 0.25, 0.08,
               0.22, 0.45, 0.52, 0.45, 0.35, 0.18, 0.06,
               0.45, 0.88, 0.75, 0.50, 0.40, 0.25, 0.08,
               0.22, 0.35, 0.30, 0.10,
               0.40, 0.75, 0.80, 0.55, 0.40, 0.25, 0.08,
               0.18, 0.38, 0.45, 0.40, 0.28, 0.15, 0.06,
               0.40, 0.78, 0.85, 0.50, 0.40, 0.25, 0.08,
               0.20, 0.32, 0.35, 0.20, 0.06,
               0.42, 0.75, 0.70, 0.45, 0.30, 0.10,
               0.22, 0.40, 0.45, 0.40, 0.25, 0.08,
               0.35, 0.70, 0.88, 0.65, 0.45, 0.35, 0.22, 0.08,
               0.22, 0.35, 0.32, 0.20, 0.06,
               0.40, 0.70, 0.80, 0.55, 0.40, 0.25, 0.08,
               0.18, 0.30, 0.32, 0.12,
               0.30, 0.40, 0.30]
obs_dir_b10 = [210, 80,
               20, 15, 30, 45, 50, 35, 170,
               190, 200, 205, 215, 225, 220, 240,
               35, 20, 25, 15, 190,
               195, 205, 215, 210, 225, 20,
               30, 45, 25, 20, 15, 30, 170,
               195, 205, 215, 220, 210, 60,
               20, 25, 30, 40,
               190, 205, 210, 215, 220, 225, 355,
               15, 25, 20, 10, 30, 25, 150,
               190, 200, 212, 218, 205, 20, 25,
               30, 25, 35, 20, 190,
               200, 210, 215, 225, 220, 30,
               35, 25, 45, 40, 20, 50,
               180, 205, 212, 220, 225, 230, 235, 80,
               40, 30, 25, 35, 190,
               200, 210, 220, 225, 230, 235, 50,
               30, 25, 20, 35,
               190, 215, 220]

obs_spd = [obs_spd_b1, obs_spd_b2, obs_spd_b3, obs_spd_b4, obs_spd_b5,
           obs_spd_b6, obs_spd_b7, obs_spd_b8, obs_spd_b9, obs_spd_b10]
obs_dir = [obs_dir_b1, obs_dir_b2, obs_dir_b3, obs_dir_b4, obs_dir_b5,
           obs_dir_b6, obs_dir_b7, obs_dir_b8, obs_dir_b9, obs_dir_b10]
spd_tr = [spd_tr_b1, spd_tr_b2, spd_tr_b3, spd_tr_b4, spd_tr_b5,
          spd_tr_b6, spd_tr_b7, spd_tr_b8, spd_tr_b9, spd_tr_b10]
spd_pk = [spd_pk_b1, spd_pk_b2, spd_pk_b3, spd_pk_b4, spd_pk_b5,
          spd_pk_b6, spd_pk_b7, spd_pk_b8, spd_pk_b9, spd_pk_b10]
dir_a = [dir_a_b1, dir_a_b2, dir_a_b3, dir_a_b4, dir_a_b5,
         dir_a_b6, dir_a_b7, dir_a_b8, dir_a_b9, dir_a_b10]
dir_b = [dir_b_b1, dir_b_b2, dir_b_b3, dir_b_b4, dir_b_b5,
         dir_b_b6, dir_b_b7, dir_b_b8, dir_b_b9, dir_b_b10]
spk_f = [spk_f_b1, spk_f_b2, spk_f_b3, spk_f_b4, spk_f_b5,
         spk_f_b6, spk_f_b7, spk_f_b8, spk_f_b9, spk_f_b10]
spk_j = [spk_j_b1, spk_j_b2, spk_j_b3, spk_j_b4, spk_j_b5,
         spk_j_b6, spk_j_b7, spk_j_b8, spk_j_b9, spk_j_b10]


def speed_vertices(start, troughs, peaks, end):
    """Model speed line: start, then trough at each slack and peak between."""
    t, v = [0.0], [start]
    for i, (s, tr) in enumerate(zip(slack_h, troughs)):
        t.append(s)
        v.append(tr)
        if i < min(len(peaks), len(peak_h)):
            t.append(peak_h[i])
            v.append(peaks[i])
    t.append(240.0)
    v.append(end)
    return np.array(t), np.array(v, dtype=float)


def direction_vertices(starts, ends, spikes):
    """Model direction line: one plateau per half cycle plus turn spikes."""
    edges = [0.0] + slack_h + [240.0]
    last = len(edges) - 2
    pts = []
    for k, (a, b) in enumerate(zip(starts, ends)):
        t0 = edges[k] + (0.6 if k > 0 else 0.0)
        t1 = edges[k + 1] - (0.6 if k < last else 0.0)
        pts += [(t0, a), (t1, b)]
    pts += list(spikes)
    pts.sort(key=lambda p: p[0])
    t, v = zip(*pts)
    return np.array(t), np.array(v, dtype=float)


def stats_line(name, i, r, me, rmse, cf, dr, dme, drmse):
    return (f"{name} | Mag: R={r[i]:.3f}, ME={me[i]:.4f}, RMSE={rmse[i]:.4f}, "
            f"CF={cf[i]:.1f}% | Dir: R={dr[i]:.3f}, ME={dme[i]:.2f}, RMSE={drmse[i]:.2f}")


fig, axes = plt.subplots(10, 2, figsize=(25, 20), sharex=True)
fig.subplots_adjust(left=0.0266, right=0.9844, bottom=0.0193, top=0.9465,
                    wspace=0.082, hspace=0.29)

for b in range(10):
    ax_s, ax_d = axes[b]

    # speed
    oh = np.arange(len(obs_spd[b]))
    ax_s.plot(oh / 24, obs_spd[b], "o", color="red", ms=3.4, mew=0, label="Obs")
    t, v = speed_vertices(spd_start[b], spd_tr[b], spd_pk[b], spd_end[b])
    ax_s.plot(t / 24, v, color="blue", lw=1.3, label="RUN100f_NE")
    m = t <= run_j_end_h
    ax_s.plot(t[m] / 24, v[m], color="green", lw=0.7, label="RUN100j_NE")
    ax_s.set_ylim(0, 2)
    ax_s.set_yticks([0.0, 0.5, 1.0, 1.5, 2.0])
    ax_s.set_ylabel("Speed (m/s)", fontsize=11)
    ax_s.set_title(f"Bin {b + 1} \u2014 depth={depths[b]:.2f} m (NAVD)", fontsize=10.5)

    # direction
    oh = np.arange(len(obs_dir[b]))
    ax_d.plot(oh / 24, obs_dir[b], "o", color="red", ms=3.4, mew=0, label="Obs")
    t, v = direction_vertices(dir_a[b], dir_b[b], spk_f[b])
    ax_d.plot(t / 24, v, color="blue", lw=1.3, label="RUN100f_NE")
    tj, vj = direction_vertices(dir_a[b], dir_b[b], spk_j[b])
    m = tj <= run_j_end_h
    ax_d.plot(tj[m] / 24, vj[m], color="green", lw=0.7, label="RUN100j_NE")
    ax_d.set_ylim(0, 360)
    ax_d.set_yticks([0, 100, 200, 300])
    ax_d.set_ylabel("Direction (deg)", fontsize=11)
    ax_d.set_title(f"Bin {b + 1} \u2014 Direction", fontsize=10.5)

    txt = (stats_line("RUN100f_NE", b, mag_r_f, mag_me_f, mag_rmse_f, cf_f,
                      dir_r_f, dir_me_f, dir_rmse_f) + "\n" +
           stats_line("RUN100j_NE", b, mag_r_j, mag_me_j, mag_rmse_j, cf_j,
                      dir_r_j, dir_me_j, dir_rmse_j))
    ax_d.text(0.02, 0.86, txt, transform=ax_d.transAxes, fontsize=8, va="top",
              bbox=dict(facecolor="white", alpha=0.7, edgecolor="none", pad=1.5))

    for ax in (ax_s, ax_d):
        ax.grid(True, alpha=0.3)
        ax.tick_params(labelsize=9)
        ax.set_xlim(0, 10)
        ax.set_xticks(range(11))
        ax.set_xticklabels(day_labels)

    if b == 0:
        ax_s.legend(loc="upper right", fontsize=7.5)
        ax_d.legend(loc="upper right", fontsize=7.5)

fig.suptitle(station, fontsize=12.5, y=0.993)
fig.savefig("out.png", dpi=200)
print("Plot saved to: out.png")
